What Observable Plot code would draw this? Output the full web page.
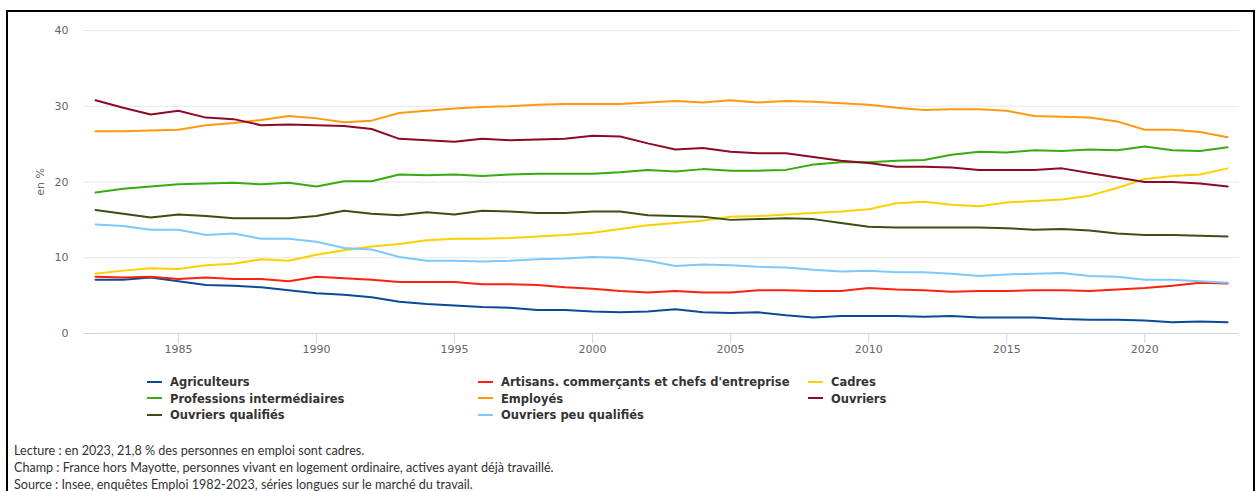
<!DOCTYPE html>
<html>
<head>
<meta charset="utf-8">
<script src="https://cdn.jsdelivr.net/npm/d3@7"></script>
<script src="https://cdn.jsdelivr.net/npm/@observablehq/plot@0.6"></script>
<style>
  html, body { margin: 0; padding: 0; background: #fff; width: 1258px; height: 491px; overflow: hidden; }
  #chart { position: absolute; left: 0; top: 0; }
  #frame { position: absolute; left: 6px; top: 10px; width: 1249px; height: 600px; border: 2.5px solid #000; border-bottom: none; pointer-events: none; box-sizing: border-box; }
  .leg { position: absolute; font-family: "DejaVu Sans", Verdana, sans-serif; font-weight: bold; font-size: 11.5px; color: #333; white-space: nowrap; line-height: 14px; }
  .leg .sw { display: inline-block; width: 15px; height: 2px; vertical-align: middle; margin-right: 8px; position: relative; top: -1px; }
  .note { position: absolute; left: 14px; font-family: Lato, sans-serif; font-size: 12.6px; color: #333; white-space: nowrap; }
</style>
</head>
<body>
<div id="chart"></div>
<div id="legend"></div>
<div class="note" style="top:443px">Lecture : en 2023, 21,8 % des personnes en emploi sont cadres.</div>
<div class="note" style="top:460px">Champ : France hors Mayotte, personnes vivant en logement ordinaire, actives ayant déjà travaillé.</div>
<div class="note" style="top:477px">Source : Insee, enquêtes Emploi 1982-2023, séries longues sur le marché du travail.</div>
<div id="frame"></div>
<script>
const years = d3.range(1982, 2024);
const xTicks = [1985, 1990, 1995, 2000, 2005, 2010, 2015, 2020];
const yTicks = [0, 10, 20, 30, 40];

const seriesNames = [
  "Agriculteurs",
  "Artisans. commerçants et chefs d'entreprise",
  "Cadres",
  "Professions intermédiaires",
  "Employés",
  "Ouvriers",
  "Ouvriers qualifiés",
  "Ouvriers peu qualifiés"
];
const seriesColors = ["#0b4a99", "#ff2010", "#ffd000", "#3aaa12", "#ff9a10", "#8c0a25", "#3b4f14", "#7cc8ff"];

const agriculteurs = [7.1,7.1,7.4,6.9,6.4,6.3,6.1,5.7,5.3,5.1,4.8,4.2,3.9,3.7,3.5,3.4,3.1,3.1,2.9,2.8,2.9,3.2,2.8,2.7,2.8,2.4,2.1,2.3,2.3,2.3,2.2,2.3,2.1,2.1,2.1,1.9,1.8,1.8,1.7,1.5,1.6,1.5];
const artisans = [7.5,7.4,7.5,7.2,7.4,7.2,7.2,6.9,7.5,7.3,7.1,6.8,6.8,6.8,6.5,6.5,6.4,6.1,5.9,5.6,5.4,5.6,5.4,5.4,5.7,5.7,5.6,5.6,6.0,5.8,5.7,5.5,5.6,5.6,5.7,5.7,5.6,5.8,6.0,6.3,6.7,6.6];
const cadres = [7.9,8.3,8.6,8.5,9.0,9.2,9.8,9.6,10.4,11.0,11.5,11.8,12.3,12.5,12.5,12.6,12.8,13.0,13.3,13.8,14.3,14.6,14.9,15.4,15.5,15.7,15.9,16.1,16.4,17.2,17.4,17.0,16.8,17.3,17.5,17.7,18.2,19.2,20.4,20.8,21.0,21.8];
const professions = [18.6,19.1,19.4,19.7,19.8,19.9,19.7,19.9,19.4,20.1,20.1,21.0,20.9,21.0,20.8,21.0,21.1,21.1,21.1,21.3,21.6,21.4,21.7,21.5,21.5,21.6,22.3,22.6,22.6,22.8,22.9,23.6,24.0,23.9,24.2,24.1,24.3,24.2,24.7,24.2,24.1,24.6];
const employes = [26.7,26.7,26.8,26.9,27.5,27.8,28.2,28.7,28.4,27.9,28.1,29.1,29.4,29.7,29.9,30.0,30.2,30.3,30.3,30.3,30.5,30.7,30.5,30.8,30.5,30.7,30.6,30.4,30.2,29.8,29.5,29.6,29.6,29.4,28.7,28.6,28.5,28.0,26.9,26.9,26.6,25.9];
const ouvriers = [30.8,29.8,28.9,29.4,28.5,28.3,27.5,27.6,27.5,27.4,27.0,25.7,25.5,25.3,25.7,25.5,25.6,25.7,26.1,26.0,25.1,24.3,24.5,24.0,23.8,23.8,23.3,22.8,22.5,22.0,22.0,21.9,21.6,21.6,21.6,21.8,21.2,20.6,20.0,20.0,19.8,19.4];
const ouvriersQualifies = [16.3,15.8,15.3,15.7,15.5,15.2,15.2,15.2,15.5,16.2,15.8,15.6,16.0,15.7,16.2,16.1,15.9,15.9,16.1,16.1,15.6,15.5,15.4,15.0,15.1,15.2,15.1,14.6,14.1,14.0,14.0,14.0,14.0,13.9,13.7,13.8,13.6,13.2,13.0,13.0,12.9,12.8];
const ouvriersPeuQualifies = [14.4,14.2,13.7,13.7,13.0,13.2,12.5,12.5,12.1,11.3,11.1,10.1,9.6,9.6,9.5,9.6,9.8,9.9,10.1,10.0,9.6,8.9,9.1,9.0,8.8,8.7,8.4,8.2,8.3,8.1,8.1,7.9,7.6,7.8,7.9,8.0,7.6,7.5,7.1,7.1,6.9,6.7];

const seriesValues = [agriculteurs, artisans, cadres, professions, employes, ouvriers, ouvriersQualifies, ouvriersPeuQualifies];

const rows = [];
seriesNames.forEach((name, i) => {
  seriesValues[i].forEach((v, j) => rows.push({serie: name, year: years[j], value: v}));
});

const chart = Plot.plot({
  width: 1258,
  height: 362,
  marginLeft: 84,
  marginRight: 19,
  marginTop: 30,
  marginBottom: 29,
  style: {fontFamily: "'DejaVu Sans', Verdana, sans-serif", fontSize: "11px", color: "#666", background: "transparent"},
  x: {domain: [1981.6, 2023.43]},
  y: {domain: [0, 40]},
  color: {domain: seriesNames, range: seriesColors},
  marks: [
    Plot.ruleY(yTicks.filter(d => d > 0), {stroke: "#e6e6e6", strokeWidth: 1}),
    Plot.ruleY([0], {stroke: "#ccd6eb", strokeWidth: 1}),
    Plot.axisX({ticks: xTicks, tickFormat: d => String(d), tickSize: 10, tickPadding: 2, stroke: "#ccd6eb", strokeOpacity: 1, fill: "#666", label: null, fontSize: 11}),
    Plot.axisY({ticks: yTicks, tickSize: 0, tickPadding: 16, fill: "#666", fontSize: 11, label: "en %", labelAnchor: "center", labelArrow: "none", labelOffset: 48}),
    Plot.line(rows, {x: "year", y: "value", z: "serie", stroke: "serie", strokeWidth: 2})
  ]
});
document.getElementById("chart").appendChild(chart);

// legend
const legend = document.getElementById("legend");
const colX = [147, 478, 808];
const rowY = [375, 391.5, 408];
seriesNames.forEach((name, i) => {
  const div = document.createElement("div");
  div.className = "leg";
  div.style.left = colX[i % 3] + "px";
  div.style.top = rowY[Math.floor(i / 3)] + "px";
  const sw = document.createElement("span");
  sw.className = "sw";
  sw.style.background = seriesColors[i];
  div.appendChild(sw);
  div.appendChild(document.createTextNode(name));
  legend.appendChild(div);
});
</script>
</body>
</html>
